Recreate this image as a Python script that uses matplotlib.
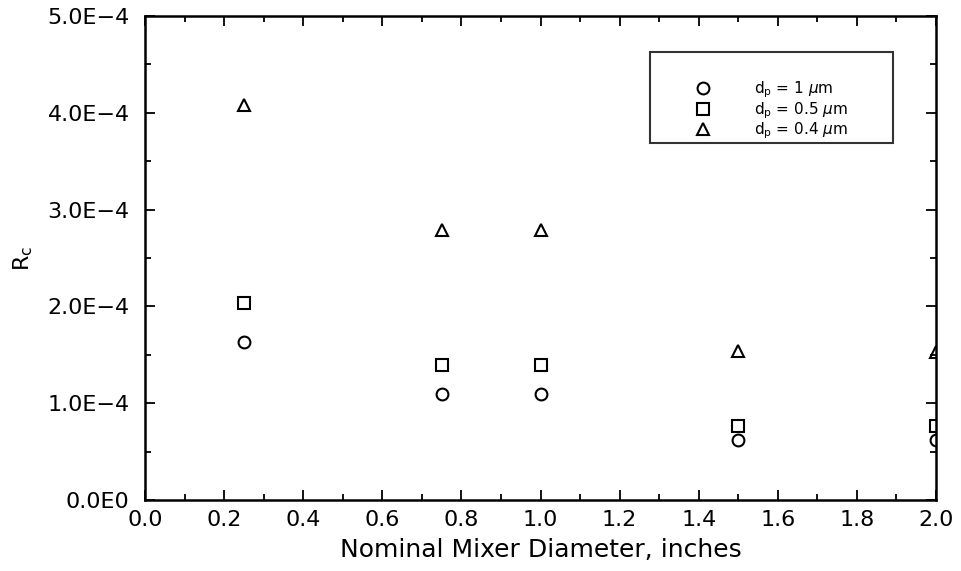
import matplotlib
matplotlib.use('Agg')
from matplotlib import pyplot as plt
from matplotlib.ticker import MultipleLocator, FuncFormatter

# mixer diameter (inches) and Rc for each particle size
diameter = [0.25, 0.75, 1.0, 1.5, 2.0]
rc_1um = [1.63e-4, 1.10e-4, 1.10e-4, 0.62e-4, 0.62e-4]
rc_05um = [2.03e-4, 1.39e-4, 1.39e-4, 0.76e-4, 0.76e-4]
rc_04um = [4.08e-4, 2.79e-4, 2.79e-4, 1.54e-4, 1.53e-4]

labels = [r'd$_\mathregular{p}$ = 1 $\mu$m',
          r'd$_\mathregular{p}$ = 0.5 $\mu$m',
          r'd$_\mathregular{p}$ = 0.4 $\mu$m']

fig = plt.figure(figsize=(9.61, 5.71), dpi=100)
ax = fig.add_axes([145 / 961, 71 / 571, 791 / 961, 484 / 571])

mk = dict(linestyle='none', markerfacecolor='none', markeredgecolor='black',
          markersize=8.5, markeredgewidth=1.5)
ax.plot(diameter, rc_1um, marker='o', label=labels[0], **mk)
ax.plot(diameter, rc_05um, marker='s', label=labels[1], **mk)
ax.plot(diameter, rc_04um, marker='^', label=labels[2], **mk)

ax.set_xlim(0, 2.0)
ax.set_ylim(0, 5e-4)
ax.xaxis.set_major_locator(MultipleLocator(0.2))
ax.xaxis.set_minor_locator(MultipleLocator(0.1))
ax.yaxis.set_major_locator(MultipleLocator(1e-4))
ax.yaxis.set_minor_locator(MultipleLocator(0.5e-4))


def fmt_y(v, pos):
    if abs(v) < 1e-12:
        return '0.0E0'
    return '%.1fE\u22124' % (v * 1e4)


ax.yaxis.set_major_formatter(FuncFormatter(fmt_y))
ax.xaxis.set_major_formatter(FuncFormatter(lambda v, p: '%.1f' % v))

ax.tick_params(which='both', direction='in', top=True, right=True,
               labelsize=16, width=1.3, color='black')
ax.tick_params(which='major', length=7)
ax.tick_params(axis='y', which='major', pad=11)
ax.tick_params(axis='x', which='major', pad=7)
ax.tick_params(which='minor', length=4)
for s in ax.spines.values():
    s.set_linewidth(1.8)

ax.set_xlabel('Nominal Mixer Diameter, inches', fontsize=18, labelpad=6)
ax.set_ylabel(r'R$_\mathregular{c}$', fontsize=16, labelpad=9)

leg = ax.legend(loc='upper left',
                bbox_to_anchor=(650 / 961, 1 - 137 / 571, 243 / 961, 85 / 571),
                bbox_transform=fig.transFigure, mode='expand',
                fontsize=11, frameon=True, fancybox=False,
                title=' ', title_fontsize=19,
                borderpad=0.1, handletextpad=0.0, labelspacing=0.0,
                borderaxespad=0, handlelength=6.7)
leg.get_frame().set_edgecolor('black')
leg.get_frame().set_linewidth(1.5)

fig.savefig('out.png', dpi=100)
